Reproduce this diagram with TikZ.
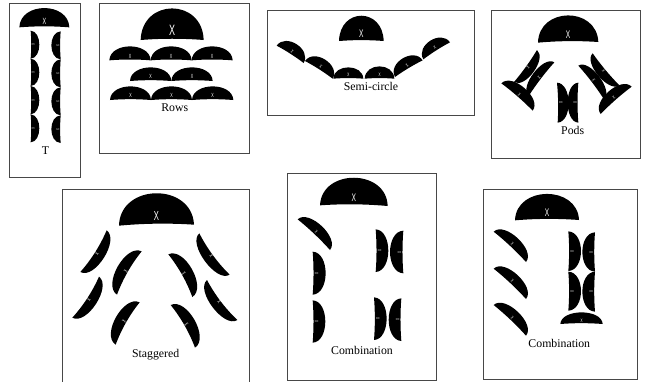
\documentclass[tikz,border=0pt]{standalone}
\usepackage{fontspec}
\setmainfont{Liberation Serif}
\newfontfamily\xfont{Liberation Sans}
\newcounter{xn}
\def\bow{0.02}
\newcommand\dome[6]{% ax ay bx by h xsize
  \stepcounter{xn}%
  \pgfmathsetmacro\ddx{#3-(#1)}%
  \pgfmathsetmacro\ddy{#4-(#2)}%
  \pgfmathsetmacro\ll{veclen(\ddx,\ddy)}%
  \pgfmathsetmacro\nx{\ddy/\ll}%
  \pgfmathsetmacro\ny{-\ddx/\ll}%
  \pgfmathsetmacro\ang{atan2(-\ddy,\ddx)}%
  \pgfmathsetmacro\bw{\bow*\ll*1.33}%
  \fill[black] (#1,#2)
    .. controls ({#1+1.33*(#5)*\nx+.02*\ddx},{#2+1.33*(#5)*\ny+.02*\ddy})
    and ({#3+1.33*(#5)*\nx-.02*\ddx},{#4+1.33*(#5)*\ny-.02*\ddy}) .. (#3,#4)
    .. controls ({#1+.67*\ddx+\bw*\nx},{#2+.67*\ddy+\bw*\ny})
    and ({#1+.33*\ddx+\bw*\nx},{#2+.33*\ddy+\bw*\ny}) .. cycle;
  \node[xmark,rotate=\ang] (x\arabic{xn}) at ({(#1+#3)/2+.3*(#5)*\nx},{(#2+#4)/2+.3*(#5)*\ny})
    {\fontsize{#6}{#6}\selectfont\scalebox{.6}[1]{X}};
}
\tikzset{
  frame/.style={draw=black!72,line width=.9pt},
  xmark/.style={text=white,inner sep=0pt,font=\xfont},
  caption/.style={inner sep=0pt,font=\fontsize{11.8}{12}\selectfont},
}
\begin{document}
\begin{tikzpicture}[x=1pt,y=-1pt]
\useasboundingbox (0,0) rectangle (660,381);
\clip (0,0) rectangle (660,381);
\fill[white] (0,0) rectangle (660,381);
% frames
\draw[frame] (9.5,3.5) rectangle (80.5,177.5);
\draw[frame] (99,3.5) rectangle (249,153);
\draw[frame] (267,10.7) rectangle (474.5,115);
\draw[frame] (491,10.7) rectangle (640,158);
\draw[frame] (62,386) -- (62,189) -- (249.5,189) -- (249.5,386);
\draw[frame] (287.5,173) rectangle (436,380);
\draw[frame] (483.5,189) rectangle (637,379.5);
% T and Rows
\begin{scope}[scale=.33333]
\dome{58}{82}{208}{82}{58}{9}
\foreach \a/\b in {92/176,176/258,258/343,343/427}{\dome{92}{\a}{92}{\b}{26}{4.5}}
\foreach \a/\b in {94/178,178/262,262/346,346/429}{\dome{182}{\b}{182}{\a}{28}{4.5}}
\dome{422}{120}{611}{120}{95}{15}
\foreach \a/\b in {328/452,452/575,575/698}{\dome{\a}{181}{\b}{181}{42}{6}}
\foreach \a/\b in {390/514,514/638}{\dome{\a}{243}{\b}{243}{41}{6}}
\foreach \a/\b in {330/453,453/576,576/700}{\dome{\a}{300}{\b}{300}{41}{6}}
\end{scope}
\node[caption] (tT) at (45.5,150.5) {T};
\node[caption] (tRows) at (174.7,107.5) {Rows};
% Semi-circle and Pods
\begin{scope}[shift={(260,0)},scale=.33333]
\dome{237}{123}{371}{123}{76}{11}
\dome{50}{137}{131}{189}{36}{5}
\dome{135}{183}{218}{236}{36}{5}
\dome{220}{236}{310}{236}{34}{5}
\dome{314}{236}{403}{236}{37}{5}
\dome{405}{231}{488}{181}{36}{5}
\dome{490}{178}{570}{127}{36}{5}
\dome{834}{128}{1015}{126}{81}{11}
\dome{831}{150}{762}{246}{30}{5}
\dome{806}{288}{883}{187}{30}{5}
\dome{724}{250}{818}{332}{35}{5}
\dome{1078}{256}{998}{160}{30}{5}
\dome{955}{197}{1032}{298}{30}{5}
\dome{1022}{342}{1115}{260}{35}{5}
\dome{891}{248}{893}{368}{34}{5}
\dome{955}{368}{955}{248}{32}{5}
\end{scope}
\node[caption] (tSemi) at (371,86) {Semi-circle};
\node[caption] (tPods) at (572.7,130.5) {Pods};
% Staggered
\begin{scope}[shift={(55,170)},scale=.33333]
\dome{192}{167}{417}{164}{96}{13}
\def\bow{0.04}
\dome{155}{181}{76}{306}{37}{6}
\dome{132}{320}{52}{443}{37}{6}
\dome{186}{374}{260}{244}{40}{6}
\dome{182}{524}{254}{397}{40}{6}
\dome{340}{253}{412}{381}{40}{6}
\dome{347}{405}{420}{533}{40}{6}
\dome{524}{314}{433}{190}{36}{6}
\dome{547}{450}{456}{330}{36}{6}
\def\bow{0.02}
\end{scope}
\node[caption] (tStag) at (155.7,354.5) {Staggered};
% Combinations
\begin{scope}[shift={(280,170)},scale=.33333]
\dome{120}{106}{323}{108}{84}{11}
\dome{53}{148}{150}{240}{35}{5}
\dome{98}{245}{98}{374}{39}{5}
\dome{98}{391}{98}{518}{38}{5}
\dome{287}{178}{287}{306}{38}{5}
\dome{370}{310}{370}{182}{40}{5}
\dome{282}{382}{282}{510}{38}{5}
\dome{364}{513}{364}{385}{38}{5}
\dome{705}{151}{897}{150}{79}{11}
\dome{641}{185}{738}{276}{35}{5}
\dome{641}{296}{738}{387}{35}{5}
\dome{641}{405}{738}{497}{35}{5}
\dome{865}{184}{865}{303}{38}{5}
\dome{865}{305}{865}{422}{38}{5}
\dome{945}{305}{945}{187}{38}{5}
\dome{945}{425}{945}{305}{38}{5}
\dome{841}{462}{968}{462}{35}{5}
\end{scope}
\node[caption] (tC1) at (362,350) {Combination};
\node[caption] (tC2) at (559.3,343.5) {Combination};
\end{tikzpicture}
\end{document}
